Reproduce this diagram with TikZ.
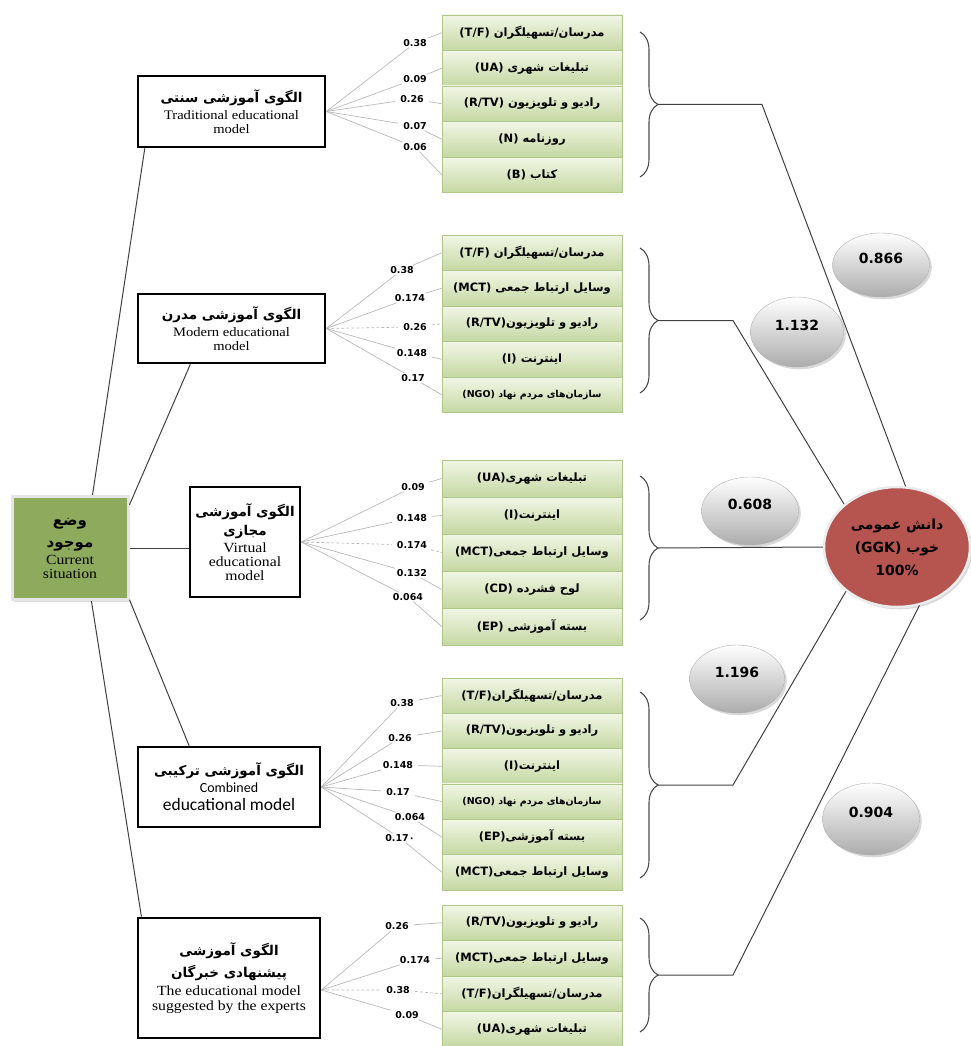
\documentclass[tikz,border=0pt]{standalone}
\usepackage{fontspec}
\setmainfont[FakeStretch=1.12]{Liberation Serif}
\newfontfamily\persfont[Script=Arabic]{DejaVu Sans}
\newfontfamily\numfont{DejaVu Sans}
\newfontfamily\calfont{Carlito}
\TeXXeTstate=1
\usepackage{tikz}
\usetikzlibrary{positioning,shapes.geometric,decorations.pathreplacing,shadows}
\definecolor{curgreen}{HTML}{8EAA5C}
\definecolor{itemtop}{HTML}{F1F6E6}
\definecolor{itembot}{HTML}{C5D8A2}
\definecolor{itemline}{HTML}{AFC88A}
\definecolor{ggkred}{HTML}{B65450}
\newcommand{\fatext}[1]{{\persfont\beginR #1\endR}}
\newcommand{\fatitle}[1]{{\persfont\bfseries\fontsize{13.5}{17}\selectfont\beginR #1\endR}}

\begin{document}
\begin{tikzpicture}
[x=1pt,y=-1pt]
\tikzset{
	cur/.style = {draw=gray!20, line width=3pt, fill=curgreen, minimum width=116pt, minimum height=103pt, align=center, inner sep=0pt, font=\fontsize{14}{14}\selectfont, drop shadow={opacity=0.25}},
	model/.style = {draw, line width=2.6pt, fill=white, align=center, inner sep=2pt, font=\fontsize{13}{14}\selectfont},
	item/.style = {draw=itemline, top color=itemtop, bottom color=itembot, minimum width=180pt, minimum height=35.5pt, font=\persfont\bfseries\fontsize{11.5}{12}\selectfont},
	num/.style = {font=\numfont\bfseries\fontsize{9.5}{10}\selectfont, inner xsep=5pt, inner ysep=1pt},
	fan/.style = {draw=gray!55, line width=0.7pt},
	link/.style = {draw=black!75, line width=1pt},
	brace/.style = {decorate, decoration={brace, amplitude=18pt}, draw=black!70, line width=1.1pt},
	score/.style = {ellipse, draw=gray!60, top color=white, bottom color=gray!65, minimum width=97pt, minimum height=64pt, font=\numfont\bfseries\fontsize{14}{16}\selectfont, text depth=14pt, drop shadow={opacity=0.3}},
	ggk/.style = {ellipse, draw=gray!15, line width=2.5pt, fill=ggkred, minimum width=146pt, minimum height=120pt, align=center, inner sep=0pt, font=\persfont\bfseries\fontsize{14}{23}\selectfont, drop shadow={opacity=0.3}}
}
\useasboundingbox (0,0) rectangle (971,1046);

\node(cur) [cur] at (70,548) {{\persfont\bfseries\fontsize{15}{20}\selectfont\beginR وضع\endR}\\[8pt] {\persfont\bfseries\fontsize{15}{20}\selectfont\beginR موجود\endR}\\[3pt] Current\\ situation};

\node(trad) [model, minimum width=187pt, minimum height=71pt] at (231.5,111.5) {\fatitle{الگوی آموزشی سنتی}\\[3pt] Traditional educational\\ model};
\node(mod) [model, minimum width=187pt, minimum height=69pt] at (231.5,328.5) {\fatitle{الگوی آموزشی مدرن}\\[3pt] Modern educational\\ model};
\node(vir) [model, minimum width=110pt, minimum height=110pt, font=\fontsize{14}{14}\selectfont] at (245,542) {\fatitle{الگوی آموزشی}\\[5pt] \fatitle{مجازی}\\[3pt] Virtual\\ educational\\ model};
\node(comb) [model, minimum width=182pt, minimum height=80pt] at (229,787) {\fatitle{الگوی آموزشی ترکیبی}\\[3pt] {\calfont\fontsize{14}{15}\selectfont Combined}\\[4pt] {\calfont\fontsize{17.5}{18}\selectfont educational model}};
\node(exp) [model, minimum width=182pt, minimum height=120pt, font=\fontsize{14}{15}\selectfont] at (229,978) {\fatitle{الگوی آموزشی}\\[6pt] \fatitle{پیشنهادی خبرگان}\\[3pt] The educational model\\ suggested by the experts};

\draw[link] (cur.67) -- (trad.203.5);
\draw[link] (cur.36.6) -- (mod.221.9);
\draw[link] (cur.east) -- (cur.east -| vir.west);
\draw[link] (cur.319.2) -- (comb.134.3);
\draw[link] (cur.292.9) -- (exp.145.7);

% traditional
\foreach \t [count=\i] in {
	{(T/F)~\fatext{مدرسان/تسهیلگران}},
	{(UA)~\fatext{تبلیغات شهری}},
	{(R/TV)~\fatext{رادیو و تلویزیون}},
	{(N)~\fatext{روزنامه}},
	{(B)~\fatext{کتاب}}}
	\node[item] (t\i) at (532,{-2.75+35.5*\i}) {\t};
\foreach \v/\x/\y [count=\i] in {0.38/415/43, 0.09/415/79, 0.26/412/99, 0.07/415/126, 0.06/415/147}
	\node[num] (nt\i) at (\x,\y) {\v};
\foreach \i in {1,...,5}
	\draw[fan] (trad.east) -- (nt\i) -- (t\i.west);

% modern
\foreach \t [count=\i] in {
	{(T/F)~\fatext{مدرسان/تسهیلگران}},
	{(MCT)~\fatext{وسایل ارتباط جمعی}},
	{(R/TV)\fatext{رادیو و تلویزیون}},
	{(I)~\fatext{اینترنت}},
	{\fontsize{9.5}{10}\selectfont(NGO)~\fatext{سازمان‌های مردم نهاد}}}
	\node[item] (m\i) at (532,{217.25+35.5*\i}) {\t};
\foreach \v/\x/\y [count=\i] in {0.38/402/270, 0.174/410/298, 0.26/415/327, 0.148/412/353, 0.17/413/378}
	\node[num] (nm\i) at (\x,\y) {\v};
\foreach \i/\s in {1/solid, 2/solid, 3/densely dashed, 4/solid, 5/solid}
	\draw[fan,\s] (mod.east) -- (nm\i) -- (m\i.west);

% virtual
\foreach \t [count=\i] in {
	{(UA)\fatext{تبلیغات شهری}},
	{(I)\fatext{اینترنت}},
	{(MCT)\fatext{وسایل ارتباط جمعی}},
	{(CD)~\fatext{لوح فشرده}},
	{(EP)~\fatext{بسته آموزشی}}}
	\node[item, minimum height=37pt] (v\i) at (532,{441.5+37*\i}) {\t};
\foreach \v/\x/\y [count=\i] in {0.09/413/487, 0.148/412/518, 0.174/412/545, 0.132/412/573, 0.064/408/597}
	\node[num] (nv\i) at (\x,\y) {\v};
\foreach \i/\s in {1/solid, 2/solid, 3/densely dashed, 4/solid, 5/solid}
	\draw[fan,\s] (vir.east) -- (nv\i) -- (v\i.west);

% combined
\foreach \t [count=\i] in {
	{(T/F)\fatext{مدرسان/تسهیلگران}},
	{(R/TV)\fatext{رادیو و تلویزیون}},
	{(I)\fatext{اینترنت}},
	{\fontsize{9.5}{10}\selectfont(NGO)~\fatext{سازمان‌های مردم نهاد}},
	{(EP)\fatext{بسته آموزشی}},
	{(MCT)\fatext{وسایل ارتباط جمعی}}}
	\node[item, minimum height=35.3pt] (c\i) at (532,{660.35+35.3*\i}) {\t};
\foreach \v/\x/\y [count=\i] in {0.38/402/703, 0.26/400/738, 0.148/398/765, 0.17/398/792, 0.064/410/817, 0.17۰/400/838}
	\node[num] (nc\i) at (\x,\y) {\v};
\foreach \i in {1,...,6}
	\draw[fan] (comb.east) -- (nc\i) -- (c\i.west);

% experts
\foreach \t [count=\i] in {
	{(R/TV)\fatext{رادیو و تلویزیون}},
	{(MCT)\fatext{وسایل ارتباط جمعی}},
	{(T/F)\fatext{مدرسان/تسهیلگران}},
	{(UA)\fatext{تبلیغات شهری}}}
	\node[item] (e\i) at (532,{887.25+35.5*\i}) {\t};
\foreach \v/\x/\y [count=\i] in {0.26/397/926, 0.174/415/960, 0.38/398/990, 0.09/407/1015}
	\node[num] (ne\i) at (\x,\y) {\v};
\foreach \i/\s in {1/solid, 2/solid, 3/densely dashed, 4/solid}
	\draw[fan,\s] ([yshift=-12pt]exp.east) -- (ne\i) -- (e\i.west);

\node(ggk) [ggk] at (897,547) {\fatext{دانش عمومی}\\ (GGK)~\fatext{خوب}\\ 100\%};

\draw[brace] (640,32) -- (640,177);
\draw[brace] (640,248) -- (640,393);
\draw[brace] (640,476) -- (640,620);
\draw[brace] (640,692) -- (640,878);
\draw[brace] (640,918) -- (640,1032);
\coordinate (b1) at (658,104.5);
\coordinate (b2) at (658,320.5);
\coordinate (b3) at (658,548);
\coordinate (b4) at (658,785);
\coordinate (b5) at (658,975);
\coordinate (k1) at (762,104.5);
\coordinate (k2) at (733,320.5);
\coordinate (k4) at (733,785);
\coordinate (k5) at (733,975);
\draw[link] (b1) -- (k1) -- (ggk.82);
\draw[link] (b2) -- (k2) -- (ggk.141);
\draw[link] (b3) -- (ggk.west);
\draw[link] (b4) -- (k4) -- (ggk.221);
\draw[link] (b5) -- (k5) -- (ggk.291);

\node(s1) [score] at (881,265) {0.866};
\node(s2) [score, minimum width=93pt, minimum height=70pt] at (797,332) {1.132};
\node(s3) [score, minimum height=68pt] at (750,511) {0.608};
\node(s4) [score, minimum width=95pt, minimum height=68pt] at (737,679) {1.196};
\node(s5) [score, minimum height=72pt] at (871,819) {0.904};
\end{tikzpicture}
\end{document}
